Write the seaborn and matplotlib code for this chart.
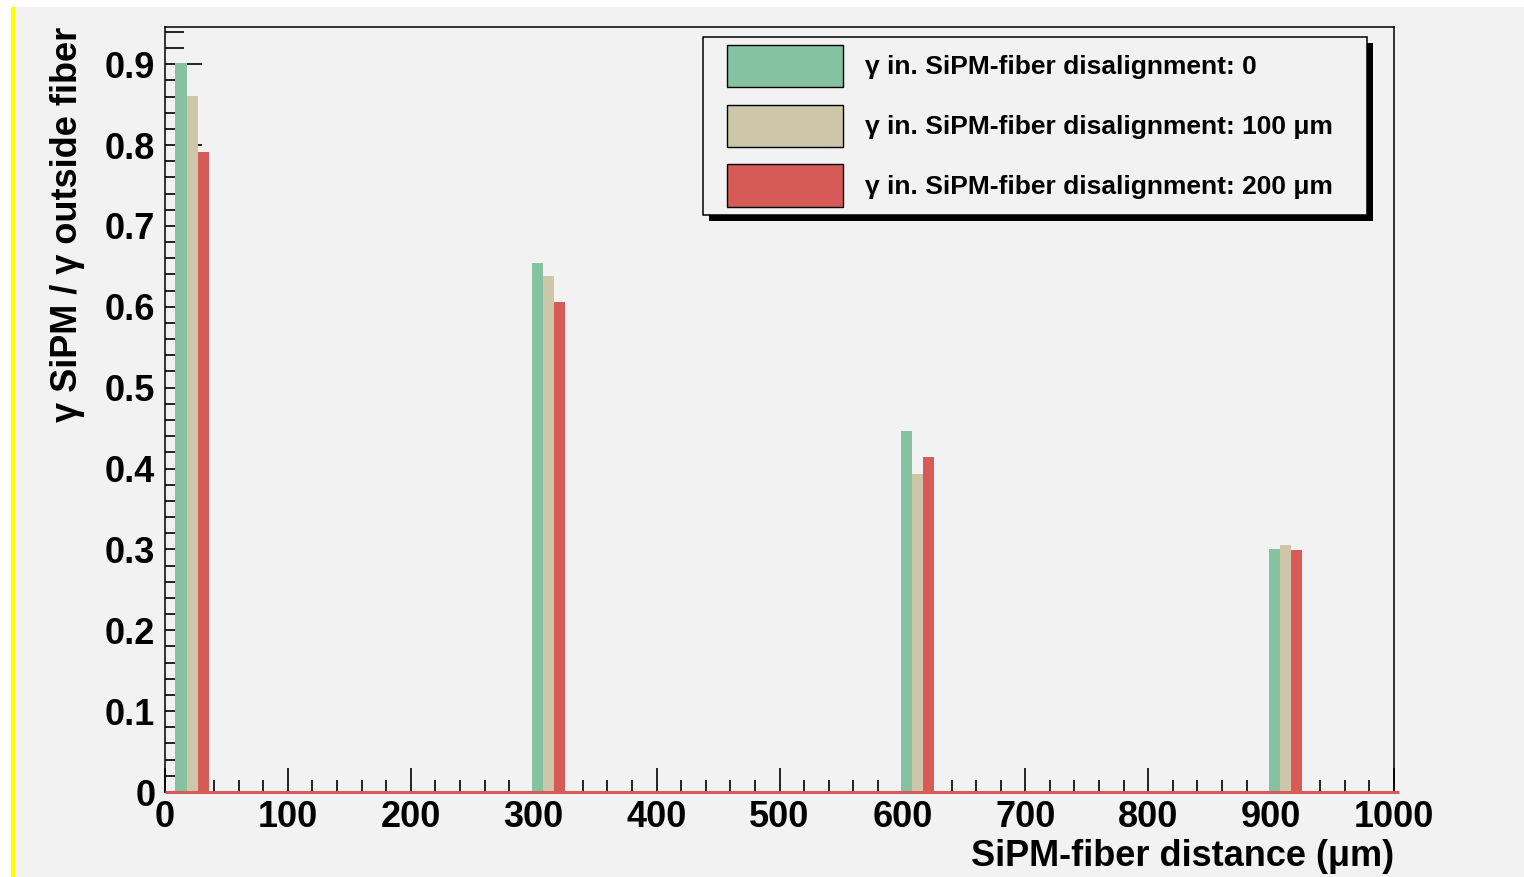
import numpy as np
import pandas as pd
import matplotlib
matplotlib.use("Agg")
import matplotlib.pyplot as plt
import seaborn as sns
from matplotlib.patches import Patch, Rectangle
from matplotlib.ticker import MultipleLocator

# ---------------- data ----------------
distance = [10, 300, 600, 900]  # SiPM-fiber distance (um)
series = ["γ in. SiPM-fiber disalignment: 0",
          "γ in. SiPM-fiber disalignment: 100 μm",
          "γ in. SiPM-fiber disalignment: 200 μm"]
ratio_0 = [0.902, 0.654, 0.446, 0.300]
ratio_100 = [0.861, 0.638, 0.393, 0.305]
ratio_200 = [0.792, 0.606, 0.414, 0.299]
colors = ["#84c2a2", "#cdc6a8", "#d65a55"]

rows = []
for name, vals in zip(series, [ratio_0, ratio_100, ratio_200]):
    for d, v in zip(distance, vals):
        rows.append({"distance": d + 12, "ratio": v, "series": name})
df = pd.DataFrame(rows)

# ---------------- style ----------------
sns.set_theme(style="white")
plt.rcParams["font.family"] = ["Liberation Sans", "DejaVu Sans"]
plt.rcParams["font.weight"] = "bold"
plt.rcParams["text.color"] = "black"
plt.rcParams["axes.labelcolor"] = "black"
plt.rcParams["xtick.color"] = "black"
plt.rcParams["ytick.color"] = "black"

W, H = 1524, 877
fig = plt.figure(figsize=(W / 100, H / 100), dpi=100, facecolor="white")
# background panel and left yellow line
fig.patches.append(Rectangle((15 / W, 0), 1 - 15 / W, (H - 7) / H,
                             transform=fig.transFigure, facecolor="#f2f2f2",
                             edgecolor="none", zorder=-10))
fig.patches.append(Rectangle((11 / W, 0), 4 / W, (H - 7) / H,
                             transform=fig.transFigure, facecolor="#ffff00",
                             edgecolor="none", zorder=-9))

ax = fig.add_axes([165 / W, 1 - 792 / H, (1394 - 165) / W, (792 - 27) / H])
ax.set_facecolor("#f2f2f2")

sns.barplot(data=df, x="distance", y="ratio", hue="series", hue_order=series,
            palette=colors, native_scale=True, width=0.093, gap=0,
            saturation=1, linewidth=0, legend=False, ax=ax, zorder=3)

# histogram baseline (red)
ax.hlines(0, 0, max(distance) + 104, colors="#d65a55", linewidth=2.2,
          clip_on=False, zorder=4)

ax.set_xlim(0, 1000)
ax.set_ylim(0, 0.946)

ax.xaxis.set_major_locator(MultipleLocator(100))
ax.xaxis.set_minor_locator(MultipleLocator(20))
ax.yaxis.set_major_locator(MultipleLocator(0.1))
ax.yaxis.set_minor_locator(MultipleLocator(0.02))
ax.tick_params(axis="x", which="major", direction="in", length=17, width=1.2,
               color="black", labelsize=26, pad=6, bottom=True, top=False)
ax.tick_params(axis="x", which="minor", direction="in", length=8.5, width=1.2,
               color="black", bottom=True, top=False)
ax.tick_params(axis="y", which="major", direction="in", length=26.5, width=1.2,
               color="black", labelsize=26, pad=7, left=True, right=False)
ax.tick_params(axis="y", which="minor", direction="in", length=13.5, width=1.2,
               color="black", left=True, right=False)
ax.set_xticks(np.arange(0, 1001, 100))
ax.set_xticklabels([str(v) for v in range(0, 1001, 100)], fontweight="bold")
yt = np.round(np.arange(0, 0.91, 0.1), 1)
ax.set_yticks(yt)
ax.set_yticklabels(["0"] + [f"{v:.1f}" for v in yt[1:]], fontweight="bold")

for s in ax.spines.values():
    s.set_visible(True)
    s.set_color("black")
    s.set_linewidth(1.1)

ax.set_xlabel("SiPM-fiber distance (μm)", fontsize=26, fontweight="bold",
              loc="right", labelpad=3)
ax.set_ylabel("γ SiPM / γ outside fiber", fontsize=26, fontweight="bold",
              loc="top", labelpad=14)

handles = [Patch(facecolor=c, edgecolor="black", linewidth=1.0) for c in colors]
leg = fig.legend(handles, series, loc="upper left",
                 bbox_to_anchor=(719 / W, 1 - 37 / H), frameon=False,
                 prop={"size": 19, "weight": "bold"},
                 handlelength=4.4, handleheight=2.1, labelspacing=0.65,
                 handletextpad=0.83, borderpad=0.3, borderaxespad=0)
leg.set_zorder(10)

fig.canvas.draw()
bb = leg.get_window_extent()
fx0, fx1 = bb.x0 - 16, bb.x1 + 26
fig.patches.append(Rectangle((fx0 + 6, bb.y0 - 6), fx1 - fx0, bb.height,
                             transform=None, facecolor="black",
                             edgecolor="none", zorder=8))
fig.patches.append(Rectangle((fx0, bb.y0), fx1 - fx0, bb.height,
                             transform=None, facecolor="#f2f2f2",
                             edgecolor="black", linewidth=1.1, zorder=9))

fig.savefig("out.png", dpi=100, facecolor=fig.get_facecolor())
